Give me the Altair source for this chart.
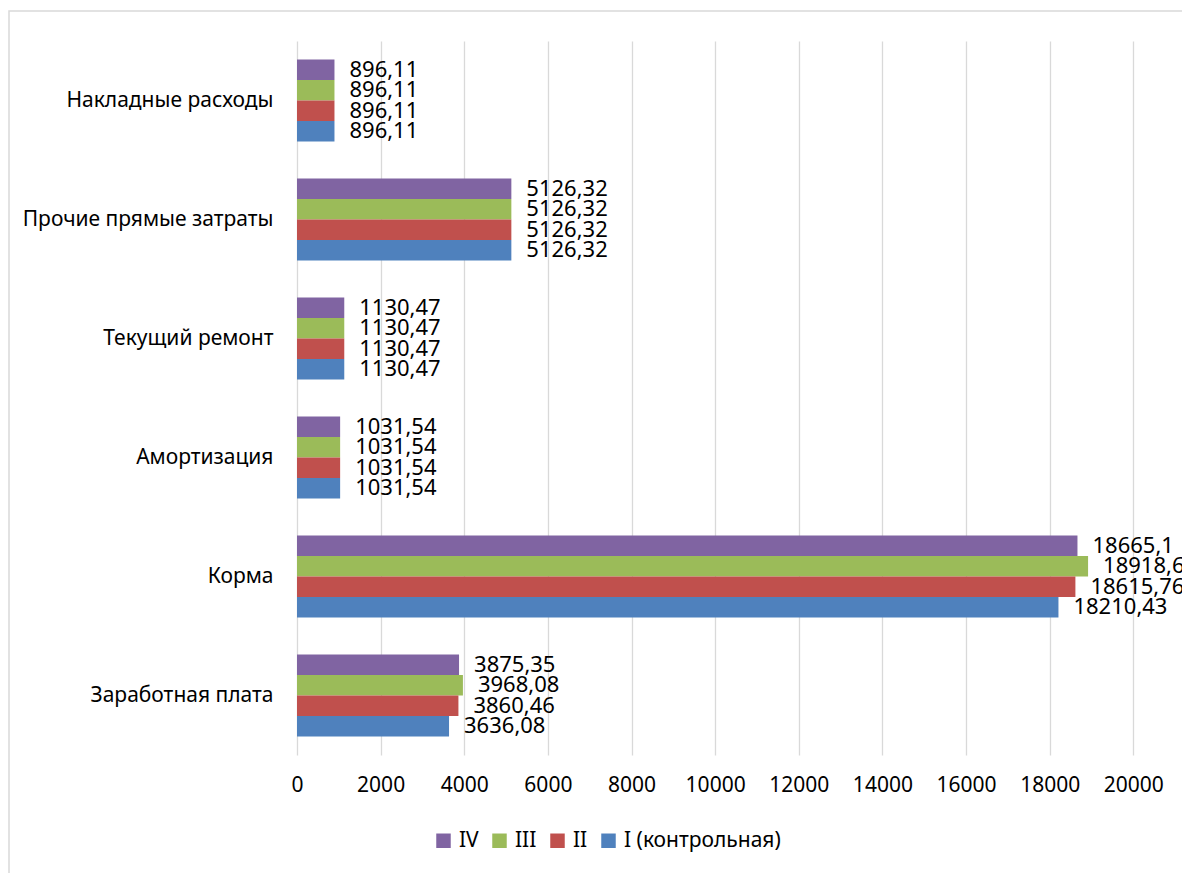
import altair as alt
import pandas as pd

# Cost items (top to bottom) and the four groups
categories = [
    "Накладные расходы",
    "Прочие прямые затраты",
    "Текущий ремонт",
    "Амортизация",
    "Корма",
    "Заработная плата",
]
series = ["IV", "III", "II", "I (контрольная)"]
colors = ["#8064A2", "#9BBB59", "#C0504D", "#4F81BD"]

values_iv = [896.11, 5126.32, 1130.47, 1031.54, 18665.1, 3875.35]
values_iii = [896.11, 5126.32, 1130.47, 1031.54, 18918.66, 3968.08]
values_ii = [896.11, 5126.32, 1130.47, 1031.54, 18615.76, 3860.46]
values_i = [896.11, 5126.32, 1130.47, 1031.54, 18210.43, 3636.08]

x_ticks = [0, 2000, 4000, 6000, 8000, 10000, 12000, 14000, 16000, 18000, 20000]

rows = []
for name, vals in zip(series, [values_iv, values_iii, values_ii, values_i]):
    for cat, v in zip(categories, vals):
        rows.append({"category": cat, "series": name, "value": v,
                     "label": str(v).replace(".", ",")})
df = pd.DataFrame(rows)

FONT = "Noto Sans"
FS = 21
FS_VAL = 22
GRID = "#d9d9d9"

y_enc = alt.Y(
    "category:N",
    sort=categories,
    scale=alt.Scale(paddingInner=0.31, paddingOuter=0.155),
    axis=alt.Axis(title=None, domain=False, ticks=False, tickSize=0, grid=False,
                  labelPadding=24, labelFont=FONT, labelFontSize=FS,
                  labelLimit=0, labelColor="#000000"),
)
yoff_enc = alt.YOffset("series:N", sort=series,
                       scale=alt.Scale(paddingInner=0, paddingOuter=0))
x_enc = alt.X(
    "value:Q",
    scale=alt.Scale(domain=[0, 21165], nice=False, zero=True),
    axis=alt.Axis(title=None, values=x_ticks, format="d", grid=True,
                  gridColor=GRID, gridWidth=1.3, domain=False, ticks=False,
                  tickSize=0, labelFlush=False, labelPadding=19,
                  labelFont=FONT, labelFontSize=FS, labelColor="#000000"),
)

bars = alt.Chart(df).mark_bar().encode(
    x=x_enc,
    y=y_enc,
    yOffset=yoff_enc,
    color=alt.Color(
        "series:N",
        sort=series,
        scale=alt.Scale(domain=series, range=colors),
        legend=alt.Legend(
            title=None, orient="none", legendX=136, legendY=789,
            direction="horizontal", symbolType="square", symbolSize=210,
            symbolStrokeWidth=0, labelFont=FONT, labelFontSize=FS,
            labelColor="#000000", labelOffset=5, columnPadding=10,
            labelLimit=0,
        ),
    ),
)

labels = alt.Chart(df).mark_text(
    align="left", baseline="middle", dx=15, font=FONT, fontSize=FS_VAL,
    color="#000000", clip=True,
).encode(
    x=alt.X("value:Q"),
    y=alt.Y("category:N", sort=categories),
    yOffset=alt.YOffset("series:N", sort=series),
    text="label:N",
)

# light outer frame of the chart area
frame = alt.Chart(pd.DataFrame({"f": [0]})).mark_rect(
    filled=False, stroke=GRID, strokeWidth=1.5,
).encode(
    x=alt.value(-288), x2=alt.value(1250),
    y=alt.value(-30), y2=alt.value(950),
)

chart = alt.layer(frame, bars, labels).properties(
    width=885,
    height=714,
    padding={"left": 297, "top": 41, "right": 0, "bottom": 118},
    autosize=alt.AutoSizeParams(type="none"),
    background="white",
).configure_view(stroke=None)

chart.save("out.html", embed_options={"renderer": "svg", "actions": False})
